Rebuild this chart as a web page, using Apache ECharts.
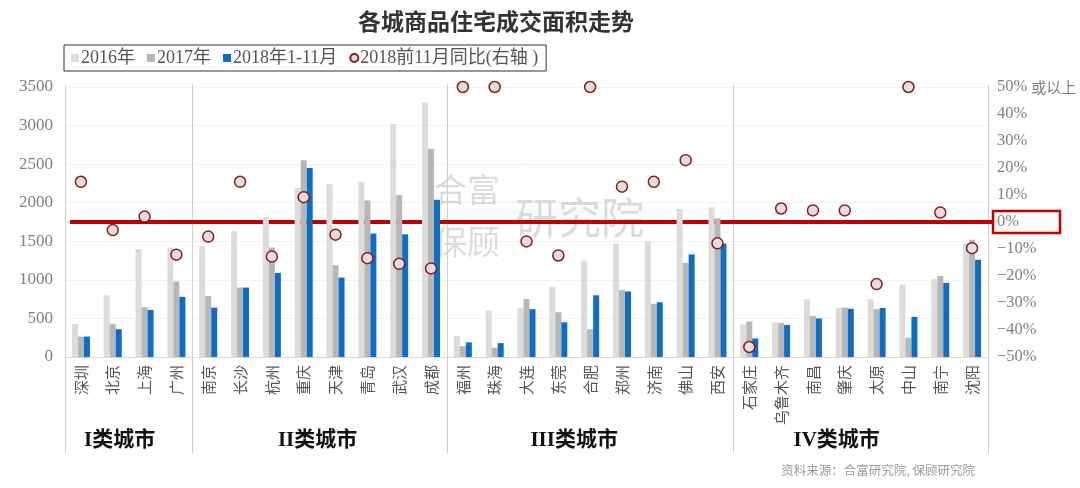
<!DOCTYPE html>
<html>
<head>
<meta charset="utf-8">
<script src="https://cdn.jsdelivr.net/npm/echarts@6/dist/echarts.min.js"></script>
<style>
html,body{margin:0;padding:0;background:#fff;}
#c{width:1080px;height:488px;}
</style>
</head>
<body>
<div id="c"></div>
<script>
const categories = ['深圳','北京','上海','广州','南京','长沙','杭州','重庆','天津','青岛','武汉','成都','福州','珠海','大连','东莞','合肥','郑州','济南','佛山','西安','石家庄','乌鲁木齐','南昌','肇庆','太原','中山','南宁','沈阳'];
const groupNames = ['I类城市','II类城市','III类城市','IV类城市'];
const groupSizes = [4, 8, 9, 8];
const area2016 = [430,800,1400,1420,1440,1630,1810,2190,2240,2270,3020,3300,270,600,630,910,1240,1470,1500,1920,1940,420,450,750,640,750,940,1010,1480];
const area2017 = [265,430,645,980,790,900,1420,2550,1190,2030,2100,2700,140,120,750,580,360,870,690,1220,1800,460,440,530,640,620,250,1050,1520];
const area2018 = [265,360,610,780,640,900,1090,2450,1030,1600,1590,2040,190,180,620,450,800,850,710,1330,1470,240,415,500,625,635,520,960,1260];
const yoy2018 = [14.9,-3,2,-12.1,-5.4,14.9,-12.8,9.2,-4.7,-13.4,-15.5,-17.2,50,50,-7.2,-12.4,50,13.1,14.9,22.9,-7.9,-46.3,5,4.3,4.3,-23,50,3.5,-9.7];
const seriesNames = ['2016年','2017年','2018年1-11月','2018前11月同比(右轴 )'];
const leftTicks = {min:0, max:3500, interval:500};
const rightTicks = {min:-50, max:50, interval:10};
const titleText = '各城商品住宅成交面积走势';
const sourceText = '资料来源：合富研究院, 保顾研究院';
const topLabelSuffix = '或以上';

// layout-only tweaks for group label placement (pixels)
const groupLabelShift = [-9, -2, -16, -24];

const serif = "'Liberation Serif','Noto Sans CJK SC',serif";
const chart = echarts.init(document.getElementById('c'), null, {renderer:'canvas'});
const option = {
  animation: false,
  backgroundColor: '#fff',
  title: {
    text: titleText, left: 353, top: 5,
    textStyle: {fontSize: 23, fontWeight: 'bold', color: '#333', fontFamily: "'Noto Sans CJK SC',sans-serif"}
  },
  legend: {
    left: 64, top: 45,
    borderColor: '#333', borderWidth: 1,
    padding: [4, 8, 4, 7],
    itemGap: 12, itemWidth: 8, itemHeight: 8,
    textStyle: {fontSize: 18, color: '#555', fontFamily: serif, padding: [0,0,0,-3]},
    data: [
      {name: seriesNames[0], icon: 'rect'},
      {name: seriesNames[1], icon: 'rect'},
      {name: seriesNames[2], icon: 'rect'},
      {name: seriesNames[3], icon: 'circle'}
    ]
  },
  grid: {left: 65, right: 92, top: 87, bottom: 131, containLabel: false, outerBoundsMode: 'none'},
  xAxis: {
    type: 'category', data: categories,
    axisLine: {show: true, lineStyle: {color: '#d9d9d9'}},
    axisTick: {show: false},
    axisLabel: {interval: 0, rotate: 90, fontSize: 15, color: '#555', margin: 8, fontFamily: "'Noto Sans CJK SC',sans-serif"}
  },
  yAxis: [
    {
      type: 'value', min: leftTicks.min, max: leftTicks.max, interval: leftTicks.interval,
      axisLine: {show: false}, axisTick: {show: false},
      axisLabel: {fontSize: 17, color: '#808080', margin: 12, fontFamily: serif, formatter: v => String(v)},
      splitLine: {lineStyle: {color: '#f2f2f2'}}
    },
    {
      type: 'value', min: rightTicks.min, max: rightTicks.max, interval: rightTicks.interval,
      axisLine: {show: false}, axisTick: {show: false},
      axisLabel: {fontSize: 16.5, color: '#808080', margin: 9, fontFamily: serif,
        formatter: v => v === rightTicks.max ? v + '% {b|' + topLabelSuffix + '}' : (v < 0 ? '−' + Math.abs(v) + '%' : v + '%'),
        rich: {b: {fontSize: 15, color: '#808080', fontFamily: "'Noto Sans CJK SC',sans-serif"}}},
      splitLine: {show: false}
    }
  ],
  series: [
    {name: seriesNames[0], type: 'bar', data: area2016, barWidth: 6, barGap: '0%', itemStyle: {color: '#dcdcdc'}, z: 2},
    {name: seriesNames[1], type: 'bar', data: area2017, barWidth: 6, barGap: '0%', itemStyle: {color: '#b7b7b7'}, z: 2},
    {name: seriesNames[2], type: 'bar', data: area2018, barWidth: 6, barGap: '0%', itemStyle: {color: '#0d6ec4'}, z: 2},
    {name: seriesNames[3], type: 'scatter', yAxisIndex: 1, data: yoy2018, symbolSize: 11,
      itemStyle: {color: '#e4dfdf', borderColor: '#8b1a1a', borderWidth: 1.5, opacity: 1}, z: 5}
  ]
};
chart.setOption(option);

// layout helpers through the library's scales
const c0 = chart.convertToPixel({xAxisIndex: 0}, 0);
const c1 = chart.convertToPixel({xAxisIndex: 0}, 1);
const band = c1 - c0;
const yTop = chart.convertToPixel({yAxisIndex: 0}, leftTicks.max);
const yZero = chart.convertToPixel({yAxisIndex: 1}, 0);
const bounds = [0];
groupSizes.forEach((s, i) => bounds.push(bounds[i] + s));
const bx = bounds.map(i => c0 + (i - 0.5) * band);
const xRight = bx[bx.length - 1];
const graphics = [];
bx.forEach(x => {
  graphics.push({type: 'line', z: 1, silent: true,
    shape: {x1: Math.round(x) + 0.5, y1: yTop - 2, x2: Math.round(x) + 0.5, y2: 453},
    style: {stroke: '#d0d0d0', lineWidth: 1}});
});
groupNames.forEach((g, i) => {
  graphics.push({type: 'text', z: 10, silent: true,
    x: (bx[i] + bx[i + 1]) / 2 + groupLabelShift[i], y: 441,
    style: {text: g, fontSize: 21, fontWeight: 'bold', fill: '#111', fontFamily: serif, align: 'center', verticalAlign: 'middle'}});
});
// watermark
const wm = {fill: 'rgba(160,160,160,0.38)', fontFamily: "'Noto Sans CJK SC',sans-serif"};
graphics.push({type: 'text', z: 0, silent: true, x: 434, y: 173, style: Object.assign({text: '合富', fontSize: 33}, wm)});
graphics.push({type: 'text', z: 0, silent: true, x: 434, y: 225, style: Object.assign({text: '保顾', fontSize: 33}, wm)});
graphics.push({type: 'text', z: 0, silent: true, x: 515, y: 196, style: Object.assign({text: '研究院', fontSize: 43}, wm)});
// red zero line and box
graphics.push({type: 'line', z: 1, silent: true,
  shape: {x1: 70, y1: yZero, x2: xRight + 5, y2: yZero},
  style: {stroke: '#c00000', lineWidth: 4}});
graphics.push({type: 'rect', z: 10, silent: true,
  shape: {x: xRight + 5, y: yZero - 11, width: 67, height: 22},
  style: {fill: 'none', stroke: '#c00000', lineWidth: 2.5}});
// source
graphics.push({type: 'text', z: 10, silent: true, x: 975, y: 470,
  style: {text: sourceText, fontSize: 12.5, fill: '#9a9a9a', align: 'right', verticalAlign: 'middle', fontFamily: "'Noto Sans CJK SC',sans-serif"}});
chart.setOption({graphic: graphics});
</script>
</body>
</html>
